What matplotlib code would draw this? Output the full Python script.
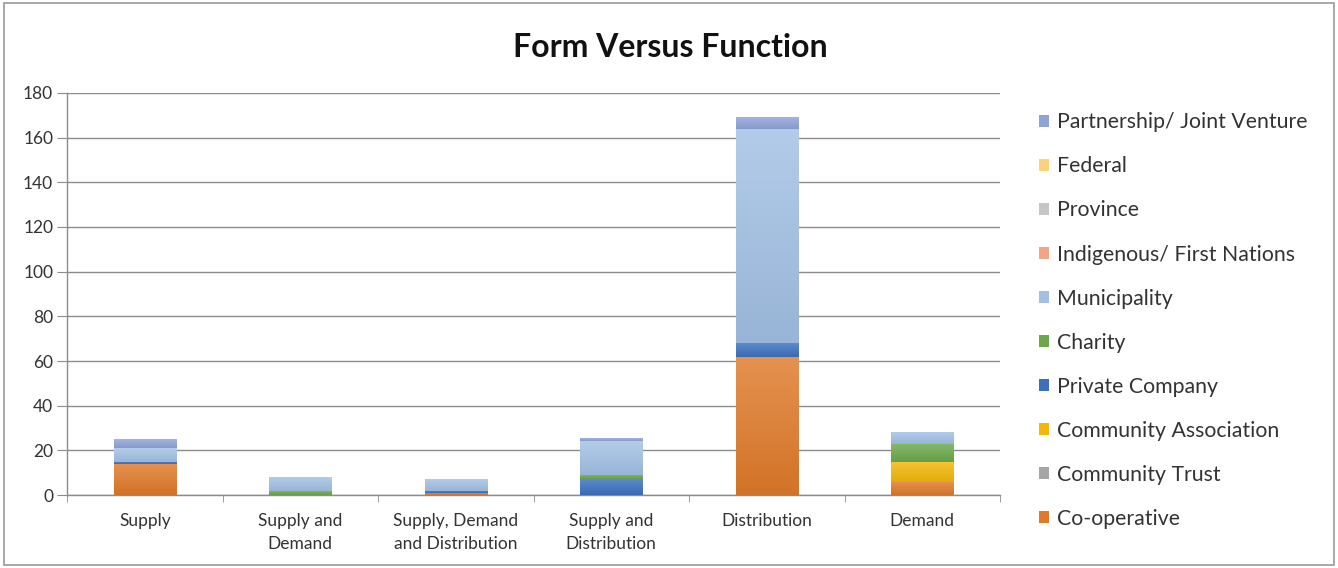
import numpy as np
import matplotlib.pyplot as plt
from matplotlib.colors import to_rgb
from matplotlib.patches import Rectangle, Patch

plt.rcParams['font.family'] = ['Lato', 'DejaVu Sans']

categories = ['Supply', 'Supply and\nDemand', 'Supply, Demand\nand Distribution',
              'Supply and\nDistribution', 'Distribution', 'Demand']

# stacked bottom to top
co_operative = [14, 0, 1, 0, 62, 6]
community_trust = [0, 0, 0, 0, 0, 0]
community_association = [0, 0, 0, 0, 0, 9]
private_company = [1, 0, 1, 7, 6, 0]
charity = [0, 2, 0, 2, 0, 8]
municipality = [6, 6, 5, 15, 96, 5]
indigenous = [0, 0, 0, 0, 0, 0]
province = [0, 0, 0, 0, 0, 0]
federal = [0, 0, 0, 0, 0, 0]
partnership = [4, 0, 0, 1, 5, 0]

series = [
    ('Co-operative', co_operative, '#DF7A2A'),
    ('Community Trust', community_trust, '#A5A5A5'),
    ('Community Association', community_association, '#F1B80A'),
    ('Private Company', private_company, '#3B70C0'),
    ('Charity', charity, '#6AA84A'),
    ('Municipality', municipality, '#A2C0E4'),
    ('Indigenous/ First Nations', indigenous, '#F2A585'),
    ('Province', province, '#C6C6C6'),
    ('Federal', federal, '#FBD27A'),
    ('Partnership/ Joint Venture', partnership, '#8EA3D8'),
]


def shade(color, f):
    r, g, b = to_rgb(color)
    if f >= 0:
        return (r + (1 - r) * f, g + (1 - g) * f, b + (1 - b) * f)
    return (r * (1 + f), g * (1 + f), b * (1 + f))


fig = plt.figure(figsize=(13.38, 5.68), dpi=100)
ax = fig.add_axes([0.0501, 0.1285, 0.6973, 0.7078])

x = np.arange(len(categories))
width = 0.4
bottom = np.zeros(len(categories))
handles = []
for name, vals, color in series:
    vals = np.array(vals, dtype=float)
    bars = ax.bar(x, vals, width, bottom=bottom, color=color, zorder=3)
    # vertical gradient on each segment, lighter at the top
    for rect, v in zip(bars, vals):
        if v <= 0:
            continue
        x0, y0 = rect.get_x(), rect.get_y()
        grad = np.linspace(0, 1, 64)[:, None]
        top_c = np.array(shade(color, 0.18))
        bot_c = np.array(shade(color, -0.06))
        img = bot_c[None, None, :] * (1 - grad[:, :, None]) + top_c[None, None, :] * grad[:, :, None]
        ax.imshow(img, extent=[x0, x0 + width, y0, y0 + v], origin='lower',
                  aspect='auto', zorder=4, interpolation='bilinear')
    bottom += vals
    handles.append(Patch(facecolor=color, label=name))

ax.set_xlim(-0.5, len(categories) - 0.5)
ax.set_ylim(0, 180)
ax.set_yticks(np.arange(0, 181, 20))
ax.yaxis.grid(True, color='#8c8c8c', linewidth=1.0, zorder=0)
ax.set_axisbelow(True)

ax.set_xticks(x)
ax.set_xticklabels(categories, fontsize=12.5, color='#333333', linespacing=1.5)
ax.tick_params(axis='x', which='major', length=0, pad=13)
ax.set_xticks(np.arange(-0.5, len(categories)), minor=True)
ax.tick_params(axis='x', which='minor', length=5, color='#8c8c8c')
ax.tick_params(axis='y', length=7, color='#8c8c8c', labelsize=12.5,
               labelcolor='#333333', pad=3)

for s in ['top', 'right']:
    ax.spines[s].set_visible(False)
for s in ['left', 'bottom']:
    ax.spines[s].set_color('#8c8c8c')
    ax.spines[s].set_linewidth(1.0)

fig.text(0.5007, 0.917, 'Form Versus Function', ha='center', va='center',
         fontsize=23, fontweight='bold', color='#111111')

fig.legend(handles=handles[::-1], loc='center left',
           bbox_to_anchor=(0.762, 0.4357), frameon=False, fontsize=15.3,
           handlelength=0.5, handleheight=0.5, handletextpad=0.35,
           labelspacing=1.13, labelcolor='#333333')

# outer border of the chart area
fig.patches.append(Rectangle((0.003, 0.005), 0.994, 0.99, transform=fig.transFigure,
                             fill=False, edgecolor='#9a9a9a', linewidth=1.2))

fig.savefig('out.png', dpi=100)
